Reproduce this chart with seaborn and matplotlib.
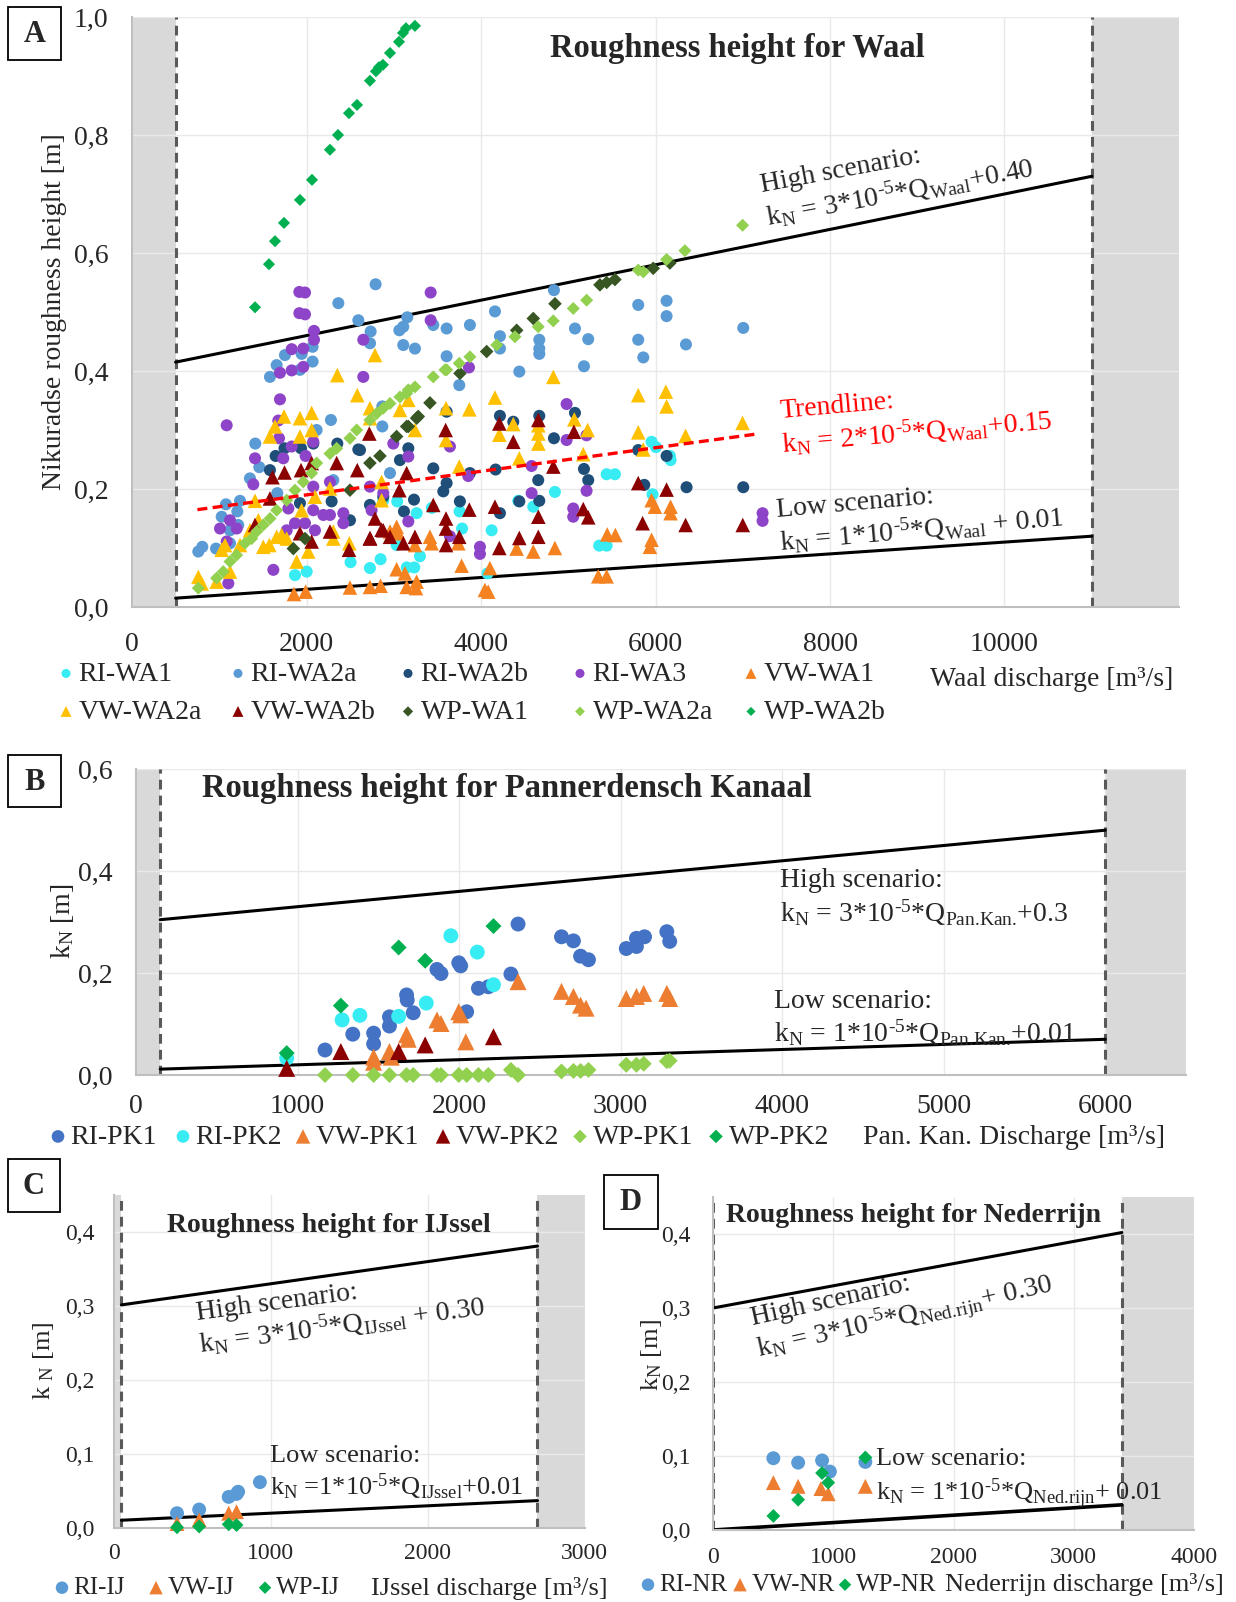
import matplotlib
matplotlib.use("Agg")
import matplotlib.pyplot as plt
from matplotlib.patches import Rectangle
import seaborn as sns

sns.set_style("white")
plt.rcParams['font.family'] = ['Liberation Serif', 'DejaVu Serif']
plt.rcParams['mathtext.fontset'] = 'custom'
plt.rcParams['mathtext.rm'] = 'Liberation Serif'
plt.rcParams['mathtext.it'] = 'Liberation Serif:italic'
plt.rcParams['mathtext.bf'] = 'Liberation Serif:bold'

# ---------------- Panel A data (Waal) ----------------
RI_WA1_q = [1868, 2002, 2505, 2727, 2849, 2880, 3040, 3033, 3150, 3235, 3262, 3300, 3437, 3755, 3783, 4075, 4122,
            4427, 4599, 4847, 5355, 5440, 5440, 5535, 5955, 5966, 6005, 6165, 6173]
RI_WA1_k = [0.054, 0.060, 0.076, 0.066, 0.081, 0.181, 0.179, 0.105, 0.067, 0.067, 0.159, 0.086, 0.168, 0.162, 0.133,
            0.057, 0.130, 0.180, 0.170, 0.195, 0.104, 0.104, 0.225, 0.225, 0.280, 0.191, 0.271, 0.256, 0.249]

RI_WA2a_q = [1753, 1658, 1581, 1944, 2070, 2070, 1925, 2280, 2116, 2869, 2869, 1413, 1459, 1352, 1077, 1238, 1207,
             1028, 760, 806, 963, 1123, 1123, 1218, 2957, 2307, 1665, 3109, 3155, 3109, 3243, 3064, 3453, 3606, 3873,
             3606, 3751, 4160, 4217, 4217, 4439, 4668, 4668, 4668, 4836, 5077, 5229, 5180, 5802, 5802, 5860, 6127,
             6127, 6349, 7006, 2792, 2365, 2594, 2735, 2728]
RI_WA2a_k = [0.427, 0.410, 0.390, 0.429, 0.441, 0.416, 0.402, 0.317, 0.300, 0.340, 0.306, 0.277, 0.237, 0.218, 0.174,
             0.180, 0.162, 0.153, 0.094, 0.102, 0.099, 0.130, 0.108, 0.139, 0.227, 0.215, 0.193, 0.475, 0.491, 0.444,
             0.438, 0.469, 0.478, 0.472, 0.478, 0.425, 0.376, 0.501, 0.459, 0.438, 0.399, 0.453, 0.438, 0.429, 0.537,
             0.472, 0.454, 0.408, 0.512, 0.453, 0.423, 0.519, 0.493, 0.445, 0.473, 0.547, 0.515, 0.486, 0.467, 0.447]

RI_WA2b_q = [2353, 2594, 2078, 1937, 1748, 1646, 1581, 2288, 2498, 2727, 2880, 3071, 3167, 3453, 3606, 3232, 3568,
             1925, 3606, 4217, 4370, 4668, 5077, 4836, 3873, 4167, 4656, 5180, 5229, 3758, 4217, 4439, 4668, 3117,
             5802, 6127, 5871, 6356, 7006, 2613]
RI_WA2b_k = [0.277, 0.267, 0.277, 0.269, 0.269, 0.256, 0.232, 0.179, 0.147, 0.173, 0.187, 0.249, 0.269, 0.235, 0.210,
             0.182, 0.196, 0.176, 0.331, 0.324, 0.314, 0.324, 0.329, 0.286, 0.227, 0.233, 0.215, 0.234, 0.215, 0.179,
             0.159, 0.179, 0.180, 0.162, 0.266, 0.256, 0.207, 0.203, 0.203, 0.266]

RI_WA3_q = [1918, 1983, 1918, 1983, 2086, 2086, 1963, 1830, 1830, 1963, 1696, 1696, 2651, 2651, 3423, 3423, 1085,
            1677, 1685, 1410, 1734, 1830, 1990, 2078, 1390, 2078, 2269, 2193, 2269, 2422, 2422, 1868, 1983, 2097,
            1773, 1123, 1200, 1009, 1085, 1620, 1104, 2880, 2727, 2746, 3167, 2995, 3167, 3862, 3644, 3854, 3644,
            3988, 3988, 4580, 4580, 4981, 4981, 5210, 5210, 5057, 5057, 7227, 7227, 1792, 2078]
RI_WA3_k = [0.534, 0.533, 0.498, 0.496, 0.468, 0.453, 0.438, 0.437, 0.401, 0.407, 0.397, 0.352, 0.453, 0.390, 0.533,
            0.486, 0.308, 0.316, 0.286, 0.252, 0.252, 0.272, 0.256, 0.280, 0.208, 0.204, 0.212, 0.156, 0.156, 0.159,
            0.142, 0.142, 0.142, 0.130, 0.130, 0.147, 0.133, 0.133, 0.111, 0.063, 0.040, 0.193, 0.204, 0.164, 0.255,
            0.277, 0.145, 0.406, 0.272, 0.222, 0.120, 0.102, 0.090, 0.239, 0.193, 0.344, 0.283, 0.291, 0.197, 0.167,
            0.153, 0.159, 0.146, 0.167, 0.164]

VW_WA1_q = [1856, 1990, 2498, 2727, 2849, 3148, 3255, 3262, 3128, 3033, 2957, 3033, 3052, 3243, 3415, 3434, 3740,
            3778, 4102, 4045, 4083, 4408, 4599, 4847, 5447, 5540, 5344, 5440, 5955, 5993, 6173, 6173, 5955, 5936]
VW_WA1_k = [0.022, 0.026, 0.033, 0.034, 0.036, 0.034, 0.032, 0.043, 0.057, 0.064, 0.128, 0.136, 0.125, 0.105, 0.119,
            0.108, 0.108, 0.070, 0.066, 0.029, 0.026, 0.099, 0.094, 0.100, 0.123, 0.122, 0.052, 0.052, 0.181, 0.170,
            0.170, 0.159, 0.114, 0.102]

VW_WA2a_q = [760, 798, 970, 1028, 1066, 1123, 1238, 1410, 1448, 1352, 1505, 1574, 1658, 1715, 1773, 1887, 1944, 2020,
             2097, 2269, 2307, 2491, 1581, 1639, 1742, 1925, 2059, 2059, 1925, 2353, 2582, 2785, 2727, 2728, 3071,
             3167, 3243, 3599, 3599, 3866, 4160, 4210, 4370, 4439, 4657, 4657, 4657, 3751, 2861, 2861, 4829, 5069,
             5222, 5172, 5802, 5802, 5860, 6119, 6127, 6345, 6998, 2307]
VW_WA2a_k = [0.051, 0.040, 0.043, 0.097, 0.105, 0.060, 0.105, 0.180, 0.147, 0.130, 0.102, 0.105, 0.119, 0.122, 0.116,
             0.077, 0.164, 0.094, 0.187, 0.201, 0.116, 0.108, 0.289, 0.306, 0.323, 0.320, 0.329, 0.300, 0.289, 0.393,
             0.359, 0.427, 0.337, 0.320, 0.334, 0.351, 0.300, 0.337, 0.283, 0.335, 0.355, 0.292, 0.310, 0.252, 0.308,
             0.294, 0.277, 0.238, 0.212, 0.181, 0.390, 0.318, 0.300, 0.259, 0.359, 0.296, 0.267, 0.365, 0.340, 0.290,
             0.312, 0.128]

VW_WA2b_q = [1610, 1748, 1937, 2059, 2346, 2582, 1581, 1410, 1925, 2059, 2269, 2487, 2720, 2727, 2880, 2957, 3110,
             3243, 3453, 3599, 3599, 3599, 3148, 3064, 3595, 4210, 4370, 4657, 4829, 2785, 2861, 2728, 3751, 3866,
             4160, 4210, 4439, 4657, 4657, 5172, 5229, 5802, 6127, 5852, 6345, 7000, 5065]
VW_WA2b_k = [0.220, 0.228, 0.232, 0.244, 0.244, 0.232, 0.184, 0.139, 0.125, 0.111, 0.128, 0.097, 0.294, 0.116, 0.130,
             0.119, 0.108, 0.119, 0.173, 0.150, 0.133, 0.105, 0.227, 0.198, 0.300, 0.311, 0.280, 0.317, 0.238, 0.150,
             0.131, 0.117, 0.119, 0.165, 0.170, 0.100, 0.117, 0.153, 0.119, 0.166, 0.152, 0.210, 0.199, 0.142, 0.139,
             0.139, 0.297]

WP_WA1_q = [1849, 1983, 2498, 2727, 2842, 3033, 3148, 3167, 3262, 3281, 3415, 3759, 4065, 4409, 4599, 4848, 5363,
            5440, 5535, 5974, 6165]
WP_WA1_k = [0.099, 0.116, 0.198, 0.244, 0.256, 0.289, 0.306, 0.306, 0.320, 0.323, 0.346, 0.396, 0.433, 0.469, 0.489,
            0.514, 0.546, 0.550, 0.555, 0.574, 0.583]

WP_WA2a_q = [760, 970, 1046, 1123, 1199, 1295, 1372, 1429, 1505, 1582, 1658, 1773, 1868, 1963, 2059, 2117, 2269, 2346,
             2498, 2575, 2727, 2804, 2880, 2957, 3071, 3148, 3243, 3453, 3587, 3167, 3606, 3751, 3873, 4180, 4389,
             4656, 4828, 5058, 5211, 5802, 5860, 6127, 6337, 6998]
WP_WA2a_k = [0.032, 0.049, 0.060, 0.077, 0.088, 0.108, 0.116, 0.128, 0.139, 0.150, 0.164, 0.181, 0.198, 0.212, 0.227,
             0.244, 0.260, 0.269, 0.286, 0.300, 0.317, 0.328, 0.337, 0.345, 0.356, 0.362, 0.373, 0.390, 0.402, 0.368,
             0.402, 0.413, 0.424, 0.444, 0.458, 0.475, 0.485, 0.506, 0.520, 0.571, 0.568, 0.589, 0.604, 0.647]

WP_WA2b_q = [1410, 1570, 1639, 1742, 1925, 2063, 2269, 2361, 2487, 2579, 2727, 2796, 2831, 2876, 2957, 3060, 3106,
             3140, 3243]
WP_WA2b_k = [0.508, 0.581, 0.620, 0.651, 0.690, 0.724, 0.775, 0.800, 0.837, 0.851, 0.892, 0.908, 0.915, 0.919, 0.939,
             0.958, 0.973, 0.981, 0.985]

A_high_q, A_high_k = [500, 11000], [0.415, 0.73]
A_low_q, A_low_k = [500, 11000], [0.015, 0.12]
A_trend_q, A_trend_k = [750, 7150], [0.165, 0.293]

# ---------------- Panel B data (Pannerdensch Kanaal) ----------------
RI_PK1_q = [1170, 1342, 1471, 1471, 1569, 1569, 1675, 1679, 1716, 1863, 1888, 1998, 2010, 2047, 2120, 2181, 2321,
            2365, 2634, 2708, 2752, 2801, 3035, 3098, 3098, 3148, 3286, 3304]
RI_PK1_k = [0.049, 0.080, 0.082, 0.061, 0.114, 0.096, 0.157, 0.147, 0.122, 0.207, 0.199, 0.220, 0.214, 0.124, 0.170,
            0.173, 0.198, 0.296, 0.271, 0.263, 0.233, 0.226, 0.248, 0.252, 0.268, 0.271, 0.281, 0.262]
RI_PK2_q = [933, 1276, 1386, 1626, 1797, 1949, 2113, 2213]
RI_PK2_k = [0.033, 0.108, 0.117, 0.115, 0.141, 0.273, 0.241, 0.177]
VW_PK1_q = [1471, 1471, 1569, 1580, 1675, 1685, 1863, 1888, 1998, 2010, 2042, 2365, 2634, 2708, 2752, 2786, 3035,
            3098, 3143, 3286, 3304]
VW_PK1_k = [0.035, 0.025, 0.046, 0.035, 0.079, 0.070, 0.108, 0.101, 0.124, 0.118, 0.065, 0.183, 0.164, 0.154, 0.137,
            0.131, 0.150, 0.154, 0.160, 0.160, 0.150]
VW_PK2_q = [933, 1268, 1626, 1790, 2213]
VW_PK2_k = [0.013, 0.046, 0.046, 0.059, 0.075]
WP_PK1_q = [1170, 1342, 1471, 1569, 1675, 1716, 1863, 1888, 1998, 2047, 2120, 2181, 2321, 2365, 2634, 2708, 2752,
            2801, 3035, 3098, 3143, 3286, 3304]
WP_PK1_k = [0.0, 0.0, 0.0, 0.0, 0.0, 0.0, 0.0, 0.0, 0.0, 0.0, 0.0, 0.0, 0.010, 0.0, 0.007, 0.008, 0.008, 0.010,
            0.020, 0.020, 0.022, 0.027, 0.028]
WP_PK2_q = [933, 1268, 1626, 1790, 2213]
WP_PK2_k = [0.043, 0.136, 0.250, 0.224, 0.292]
B_high_q, B_high_k = [150, 6000], [0.3045, 0.48]
B_low_q, B_low_k = [150, 6000], [0.0115, 0.07]

# ---------------- Panel C data (IJssel) ----------------
RI_IJ_q = [404, 545, 733, 783, 793, 932]
RI_IJ_k = [0.020, 0.025, 0.042, 0.046, 0.049, 0.062]
VW_IJ_q = [404, 545, 733, 783]
VW_IJ_k = [0.006, 0.011, 0.020, 0.022]
WP_IJ_q = [404, 545, 733, 783]
WP_IJ_k = [0.001, 0.002, 0.005, 0.004]
C_high_q, C_high_k = [50, 2700], [0.3015, 0.381]
C_low_q, C_low_k = [50, 2700], [0.0105, 0.037]

# ---------------- Panel D data (Nederrijn) ----------------
RI_NR_q = [502, 708, 907, 972, 1267]
RI_NR_k = [0.097, 0.091, 0.094, 0.079, 0.092]
VW_NR_q = [502, 708, 897, 958, 1267]
VW_NR_k = [0.064, 0.059, 0.056, 0.049, 0.059]
WP_NR_q = [502, 708, 907, 958, 1267]
WP_NR_k = [0.019, 0.041, 0.077, 0.064, 0.098]
D_high_q, D_high_k = [0, 3400], [0.30, 0.402]
D_low_q, D_low_k = [0, 3400], [0.0, 0.034]

# ---------------- figure ----------------
W, H = 1236, 1602
fig = plt.figure(figsize=(W / 100, H / 100), dpi=100)


def axpos(l, t, r, b):
    return [l / W, 1 - b / H, (r - l) / W, (b - t) / H]


def ftext(x, y, s, **kw):
    return fig.text(x / W, 1 - y / H, s, **kw)


def eq(a, sub, tail):
    return r"k$_{\rm N}$ = " + a + r"*10$^{\text{-5}}$*Q$_{\text{" + sub + r"}}$" + tail


def style_axes(ax, xlim, ylim, xticks, yticks, fs, xpad, ypad, bands, dashes_at):
    ax.set_xlim(*xlim)
    ax.set_ylim(*ylim)
    ax.set_xticks(xticks)
    ax.set_yticks(yticks)
    ax.set_xticklabels([str(int(v)) for v in xticks])
    ax.set_yticklabels([f"{v:.1f}".replace('.', ',') for v in yticks])
    ax.tick_params(length=0, labelsize=fs)
    ax.tick_params(axis='x', pad=xpad)
    ax.tick_params(axis='y', pad=ypad)
    ax.grid(True, color='#E9E9E9', lw=1.0)
    ax.set_axisbelow(True)
    for sp in ['top', 'right']:
        ax.spines[sp].set_visible(False)
    for sp in ['left', 'bottom']:
        ax.spines[sp].set_color('#BFBFBF')
        ax.spines[sp].set_linewidth(1.5)
    for a, b in bands:
        ax.axvspan(a, b, color='#D9D9D9', lw=0, zorder=0.5)
    for xd in dashes_at:
        ax.axvline(xd, color='#595959', lw=2.2, ls=(0, (3.2, 2.0)), zorder=1)


def scat(ax, q, k, color, marker, s, label):
    sns.scatterplot(x=q, y=k, ax=ax, color=color, marker=marker, s=s, edgecolor='none', linewidth=0,
                    label=label, legend=False, zorder=3, clip_on=False)
    return ax.collections[-1]


def legend_entry(handle, label, mx, my, fs, mscale):
    hl = 0.5
    half = hl * fs * 100 / 72 / 2
    fig.legend([handle], [label], loc='center left', bbox_to_anchor=((mx - half) / W, 1 - my / H),
               frameon=False, fontsize=fs, handlelength=hl, handletextpad=0.2, borderpad=0,
               borderaxespad=0, markerscale=mscale, scatterpoints=1)


def box_label(l, t, r, b, s, fs=22):
    fig.add_artist(Rectangle((l / W, 1 - b / H), (r - l) / W, (b - t) / H, transform=fig.transFigure,
                             facecolor='white', edgecolor='black', lw=1.3))
    ftext((l + r) / 2, (t + b) / 2 + 1, s, ha='center', va='center', fontsize=fs, fontweight='bold')


C_cyan = '#38ECF3'
C_lblue = '#5B9BD5'
C_navy = '#1F4E79'
C_purple = '#8E44C8'
C_orange = '#F58220'
C_gold = '#FFC000'
C_dred = '#8B0000'
C_dgreen = '#375623'
C_lgreen = '#92D050'
C_green = '#00B050'
C_blue = '#4472C4'
C_orange2 = '#ED7D31'

# ---------------- Panel A ----------------
axA = fig.add_axes(axpos(132, 17, 1179, 607))
style_axes(axA, (0, 12000), (0, 1.0), list(range(0, 10001, 2000)), [0, 0.2, 0.4, 0.6, 0.8, 1.0],
           20, 18, 17, [(0, 500), (11000, 12000)], [500, 11000])
axA.plot(A_high_q, A_high_k, color='black', lw=2.2, zorder=2)
axA.plot(A_low_q, A_low_k, color='black', lw=2.2, zorder=2)
hA = {}
hA['RI-WA1'] = scat(axA, RI_WA1_q, RI_WA1_k, C_cyan, 'o', 75, 'RI-WA1')
hA['RI-WA2a'] = scat(axA, RI_WA2a_q, RI_WA2a_k, C_lblue, 'o', 75, 'RI-WA2a')
hA['RI-WA2b'] = scat(axA, RI_WA2b_q, RI_WA2b_k, C_navy, 'o', 75, 'RI-WA2b')
hA['RI-WA3'] = scat(axA, RI_WA3_q, RI_WA3_k, C_purple, 'o', 75, 'RI-WA3')
hA['VW-WA1'] = scat(axA, VW_WA1_q, VW_WA1_k, C_orange, '^', 110, 'VW-WA1')
hA['VW-WA2a'] = scat(axA, VW_WA2a_q, VW_WA2a_k, C_gold, '^', 110, 'VW-WA2a')
hA['VW-WA2b'] = scat(axA, VW_WA2b_q, VW_WA2b_k, C_dred, '^', 110, 'VW-WA2b')
hA['WP-WA1'] = scat(axA, WP_WA1_q, WP_WA1_k, C_dgreen, 'D', 48, 'WP-WA1')
hA['WP-WA2a'] = scat(axA, WP_WA2a_q, WP_WA2a_k, C_lgreen, 'D', 44, 'WP-WA2a')
hA['WP-WA2b'] = scat(axA, WP_WA2b_q, WP_WA2b_k, C_green, 'D', 38, 'WP-WA2b')
axA.plot(A_trend_q, A_trend_k, color='#FF0000', lw=2.4, ls=(0, (3.0, 1.6)), zorder=4)

ftext(737, 49, "Roughness height for Waal", ha='center', va='center', fontsize=23.5, fontweight='bold')
ftext(762, 192, "High scenario:", fontsize=20, rotation=10.5, rotation_mode='anchor', ha='left', va='baseline')
ftext(768, 226, eq("3", "Waal", "+0.40"), fontsize=20, rotation=10.5,
      rotation_mode='anchor', ha='left', va='baseline')
ftext(780, 418, "Trendline:", fontsize=20, color='#FF0000', rotation=5, rotation_mode='anchor', ha='left',
      va='baseline')
ftext(782, 453, eq("2", "Waal", "+0.15"), fontsize=20, color='#FF0000', rotation=5,
      rotation_mode='anchor', ha='left', va='baseline')
ftext(777, 517, "Low scenario:", fontsize=20, rotation=5, rotation_mode='anchor', ha='left', va='baseline')
ftext(780, 551, eq("1", "Waal", " + 0.01"), fontsize=20, rotation=5,
      rotation_mode='anchor', ha='left', va='baseline')
ftext(55, 312, "Nikuradse roughness height [m]", rotation=90, ha='center', va='center', fontsize=20)
ftext(1052, 680, "Waal discharge [m³/s]", ha='center', va='center', fontsize=20)
box_label(8, 7, 61, 60, "A")

row1 = ['RI-WA1', 'RI-WA2a', 'RI-WA2b', 'RI-WA3', 'VW-WA1']
row2 = ['VW-WA2a', 'VW-WA2b', 'WP-WA1', 'WP-WA2a', 'WP-WA2b']
colx = [66, 238, 408, 580, 751]
for i, name in enumerate(row1):
    legend_entry(hA[name], name, colx[i], 674, 20, 0.75)
for i, name in enumerate(row2):
    legend_entry(hA[name], name, colx[i], 712, 20, 0.75)

# ---------------- Panel B ----------------
axB = fig.add_axes(axpos(136, 769, 1186, 1075))
style_axes(axB, (0, 6500), (0, 0.6), list(range(0, 6001, 1000)), [0, 0.2, 0.4, 0.6],
           20, 14, 17, [(0, 150), (6000, 6500)], [150, 6000])
axB.plot(B_high_q, B_high_k, color='black', lw=2.2, zorder=2)
axB.plot(B_low_q, B_low_k, color='black', lw=2.2, zorder=2)
hB = {}
hB['RI-PK1'] = scat(axB, RI_PK1_q, RI_PK1_k, C_blue, 'o', 115, 'RI-PK1')
hB['RI-PK2'] = scat(axB, RI_PK2_q, RI_PK2_k, C_cyan, 'o', 115, 'RI-PK2')
hB['VW-PK1'] = scat(axB, VW_PK1_q, VW_PK1_k, C_orange2, '^', 150, 'VW-PK1')
hB['VW-PK2'] = scat(axB, VW_PK2_q, VW_PK2_k, C_dred, '^', 150, 'VW-PK2')
hB['WP-PK1'] = scat(axB, WP_PK1_q, WP_PK1_k, C_lgreen, 'D', 66, 'WP-PK1')
hB['WP-PK2'] = scat(axB, WP_PK2_q, WP_PK2_k, C_green, 'D', 66, 'WP-PK2')
ftext(507, 789, "Roughness height for Pannerdensch Kanaal", ha='center', va='center', fontsize=23.5,
      fontweight='bold')
ftext(780, 887, "High scenario:", fontsize=20, ha='left', va='baseline')
ftext(780, 922, eq("3", "Pan.Kan.", "+0.3"), fontsize=20, ha='left', va='baseline')
ftext(774, 1008, "Low scenario:", fontsize=20, ha='left', va='baseline')
ftext(774, 1042, eq("1", "Pan.Kan.", "+0.01"), fontsize=20, ha='left', va='baseline')
ftext(63, 921, r"k$_{\rm N}$ [m]", rotation=90, ha='center', va='center', fontsize=20)
ftext(1014, 1137, "Pan. Kan. Discharge [m³/s]", ha='center', va='center', fontsize=20)
box_label(8, 755, 61, 807, "B")
for name, mx in zip(['RI-PK1', 'RI-PK2', 'VW-PK1', 'VW-PK2', 'WP-PK1', 'WP-PK2'], [58, 183, 303, 443, 580, 716]):
    legend_entry(hB[name], name, mx, 1137, 20, 0.85)

# ---------------- Panel C ----------------
axC = fig.add_axes(axpos(113.6, 1195, 584.6, 1528))
style_axes(axC, (0, 3000), (0, 0.45), [0, 1000, 2000, 3000], [0, 0.1, 0.2, 0.3, 0.4],
           17, 11, 14, [(0, 50), (2700, 3000)], [50, 2700])
axC.plot(C_high_q, C_high_k, color='black', lw=2.2, zorder=2)
axC.plot(C_low_q, C_low_k, color='black', lw=2.2, zorder=2)
hC = {}
hC['RI-IJ'] = scat(axC, RI_IJ_q, RI_IJ_k, C_lblue, 'o', 100, 'RI-IJ')
hC['VW-IJ'] = scat(axC, VW_IJ_q, VW_IJ_k, C_orange2, '^', 115, 'VW-IJ')
hC['WP-IJ'] = scat(axC, WP_IJ_q, WP_IJ_k, C_green, 'D', 50, 'WP-IJ')
ftext(329, 1225, "Roughness height for IJssel", ha='center', va='center', fontsize=20, fontweight='bold')
ftext(197, 1320, "High scenario:", fontsize=20, rotation=7.5, rotation_mode='anchor', ha='left', va='baseline')
ftext(200, 1353, eq("3", "IJssel", " + 0.30"), fontsize=20, rotation=7.5,
      rotation_mode='anchor', ha='left', va='baseline')
ftext(270, 1462, "Low scenario:", fontsize=19, ha='left', va='baseline')
ftext(270, 1495, r"k$_{\rm N}$ =1*10$^{\text{-5}}$*Q$_{\text{IJssel}}$+0.01", fontsize=19, ha='left',
      va='baseline')
ftext(43, 1361, r"k $_{\rm N}$ [m]", rotation=90, ha='center', va='center', fontsize=19)
ftext(489, 1588, "IJssel discharge [m³/s]", ha='center', va='center', fontsize=19)
box_label(8, 1159, 60, 1212, "C")
for name, mx in zip(['RI-IJ', 'VW-IJ', 'WP-IJ'], [62, 156, 265]):
    legend_entry(hC[name], name, mx, 1588, 18, 0.9)

# ---------------- Panel D ----------------
axD = fig.add_axes(axpos(713, 1197, 1194, 1530))
style_axes(axD, (0, 4000), (0, 0.45), [0, 1000, 2000, 3000, 4000], [0, 0.1, 0.2, 0.3, 0.4],
           17, 12, 16, [(3400, 4000)], [0, 3400])
axD.plot(D_high_q, D_high_k, color='black', lw=2.2, zorder=2)
axD.plot(D_low_q, D_low_k, color='black', lw=2.6, zorder=2)
hD = {}
hD['RI-NR'] = scat(axD, RI_NR_q, RI_NR_k, C_lblue, 'o', 100, 'RI-NR')
hD['VW-NR'] = scat(axD, VW_NR_q, VW_NR_k, C_orange2, '^', 115, 'VW-NR')
hD['WP-NR'] = scat(axD, WP_NR_q, WP_NR_k, C_green, 'D', 50, 'WP-NR')
ftext(914, 1216, "Roughness height for Nederrijn", ha='center', va='center', fontsize=20, fontweight='bold')
ftext(753, 1325, "High scenario:", fontsize=20, rotation=12.5, rotation_mode='anchor', ha='left', va='baseline')
ftext(759, 1357, eq("3", "Ned.rijn", "+ 0.30"), fontsize=20, rotation=12.5,
      rotation_mode='anchor', ha='left', va='baseline')
ftext(876, 1465, "Low scenario:", fontsize=19, ha='left', va='baseline')
ftext(876, 1500, eq("1", "Ned.rijn", "+ 0.01"), fontsize=19, ha='left', va='baseline')
ftext(652, 1355, r"k$_{\rm N}$ [m]", rotation=90, ha='center', va='center', fontsize=19)
ftext(1084, 1585, "Nederrijn discharge [m³/s]", ha='center', va='center', fontsize=19)
box_label(604, 1175, 658, 1229, "D")
for name, mx in zip(['RI-NR', 'VW-NR', 'WP-NR'], [648, 740, 845]):
    legend_entry(hD[name], name, mx, 1585, 18, 0.9)

fig.savefig("out.png", dpi=100)
